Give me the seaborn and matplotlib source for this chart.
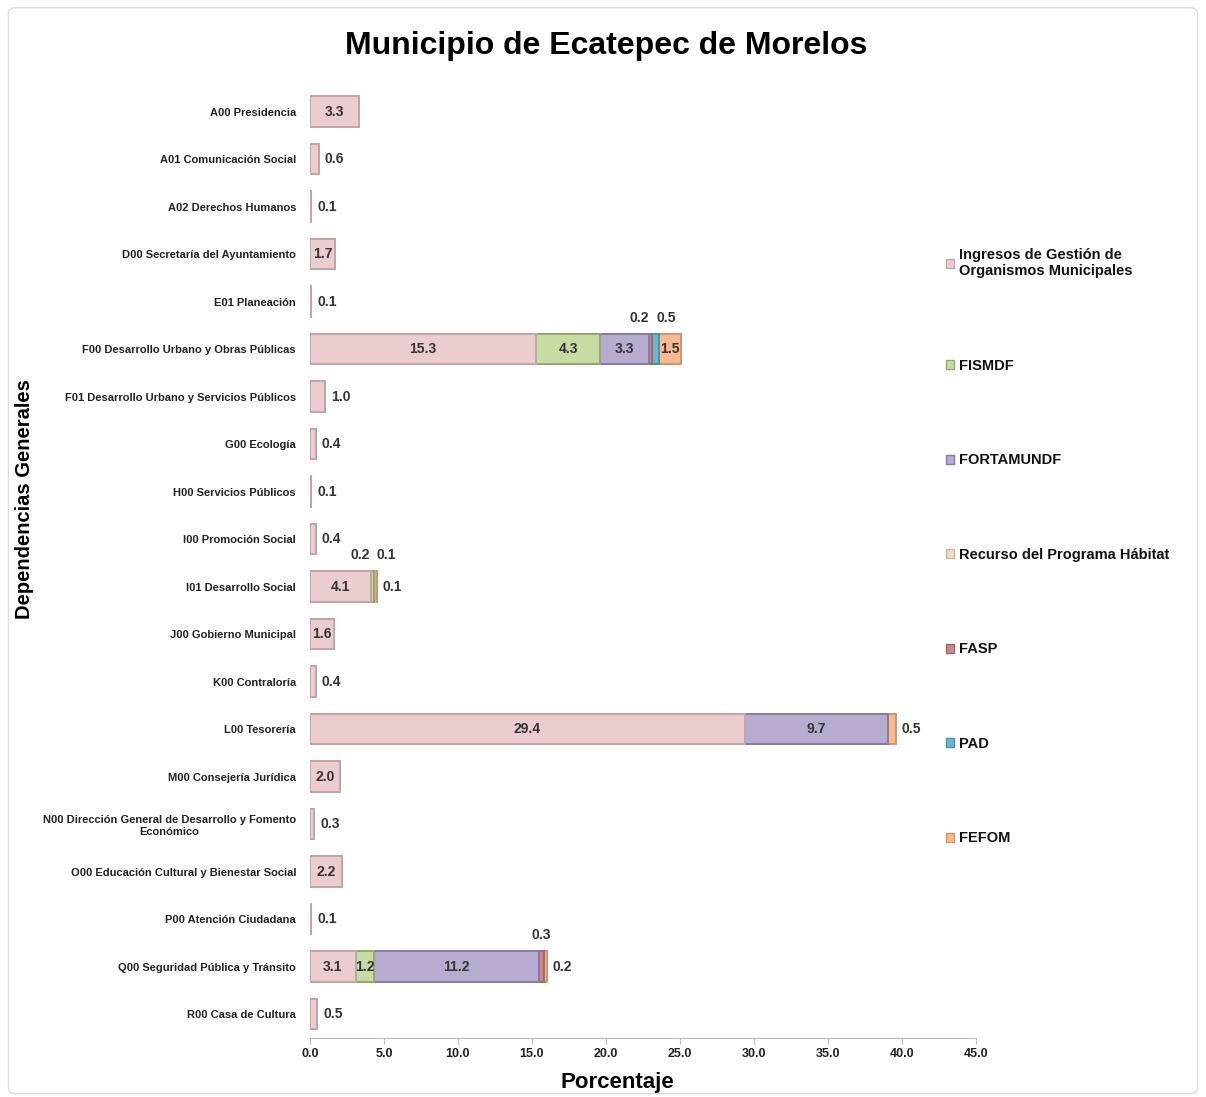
import numpy as np
import pandas as pd
import seaborn as sns
import matplotlib.pyplot as plt
from matplotlib.patches import Patch, FancyBboxPatch
from matplotlib.ticker import FormatStrFormatter, MultipleLocator

# Data (percent of budget per dependency and funding source)
dependencias = [
    "A00 Presidencia", "A01 Comunicación Social", "A02 Derechos Humanos",
    "D00 Secretaría del Ayuntamiento", "E01 Planeación",
    "F00 Desarrollo Urbano y Obras Públicas",
    "F01 Desarrollo Urbano y Servicios Públicos", "G00 Ecología",
    "H00 Servicios Públicos", "I00 Promoción Social", "I01 Desarrollo Social",
    "J00 Gobierno Municipal", "K00 Contraloría", "L00 Tesorería",
    "M00 Consejería Jurídica",
    "N00 Dirección General de Desarrollo y Fomento\nEconómico",
    "O00 Educación Cultural y Bienestar Social", "P00 Atención Ciudadana",
    "Q00 Seguridad Pública y Tránsito", "R00 Casa de Cultura",
]
ingresos = [3.3, 0.6, 0.1, 1.7, 0.1, 15.3, 1.0, 0.4, 0.1, 0.4, 4.1, 1.6, 0.4, 29.4, 2.0, 0.3, 2.2, 0.1, 3.1, 0.5]
fismdf = [0, 0, 0, 0, 0, 4.3, 0, 0, 0, 0, 0.2, 0, 0, 0, 0, 0, 0, 0, 1.2, 0]
fortamundf = [0, 0, 0, 0, 0, 3.3, 0, 0, 0, 0, 0, 0, 0, 9.7, 0, 0, 0, 0, 11.2, 0]
habitat = [0, 0, 0, 0, 0, 0, 0, 0, 0, 0, 0.1, 0, 0, 0, 0, 0, 0, 0, 0, 0]
fasp = [0, 0, 0, 0, 0, 0.2, 0, 0, 0, 0, 0, 0, 0, 0, 0, 0, 0, 0, 0.3, 0]
pad = [0, 0, 0, 0, 0, 0.5, 0, 0, 0, 0, 0, 0, 0, 0, 0, 0, 0, 0, 0, 0]
fefom = [0, 0, 0, 0, 0, 1.5, 0, 0, 0, 0, 0.1, 0, 0, 0.5, 0, 0, 0, 0, 0.2, 0]

series_names = ["Ingresos de Gestión de\nOrganismos Municipales", "FISMDF", "FORTAMUNDF",
                "Recurso del Programa Hábitat", "FASP", "PAD", "FEFOM"]
series_vals = [ingresos, fismdf, fortamundf, habitat, fasp, pad, fefom]
colors = ["#ebcdcf", "#c6dca2", "#b8abd0", "#f1dccb", "#c98a8e", "#6db6cf", "#f6bb92"]
edges = ["#c4a4a6", "#94a96e", "#887ba2", "#cdb5a3", "#a0666a", "#4b93ab", "#d29468"]

df = pd.DataFrame(dict(zip(series_names, series_vals)), index=dependencias)
cum = df.cumsum(axis=1)

plt.rcParams["font.family"] = ["Liberation Sans", "DejaVu Sans"]
fig, ax = plt.subplots(figsize=(12.06, 10.97), dpi=100)
fig.subplots_adjust(left=0.257, right=0.809, bottom=0.054, top=0.92)

# light frame around the figure
fig.patches.append(FancyBboxPatch((0.007, 0.003), 0.986, 0.99, boxstyle="round,pad=0,rounding_size=0.006",
                                  transform=fig.transFigure, facecolor="none", edgecolor="#dddddd", lw=1))

# stacked bars: draw cumulative totals from last series to first
for i in range(len(series_names) - 1, -1, -1):
    d = pd.DataFrame({"dep": dependencias, "val": cum.iloc[:, i].values})
    sns.barplot(data=d, y="dep", x="val", orient="y", color=colors[i], width=0.64,
                edgecolor=edges[i], linewidth=1.4, saturation=1, ax=ax, errorbar=None)

# value labels
lab_kw = dict(fontsize=10, fontweight="bold", color="#333333", va="center")
for r, dep in enumerate(dependencias):
    vals = df.loc[dep].values
    nz = [j for j in range(len(vals)) if vals[j] > 0]
    above = []
    for k, j in enumerate(nz):
        v = vals[j]
        start = cum.loc[dep].values[j] - v
        if v >= 1.2:
            ax.text(start + v / 2, r, f"{v:.1f}", ha="center", **lab_kw)
        elif k == len(nz) - 1:
            ax.text(start + v + 0.4, r, f"{v:.1f}", ha="left", **lab_kw)
        else:
            above.append((start + v / 2, v))
    if above:
        mean = np.mean([c for c, _ in above])
        n = len(above)
        for k, (c, v) in enumerate(above):
            xpos = mean + (k - (n - 1) / 2) * 1.8
            ax.text(xpos, r - 0.66, f"{v:.1f}", ha="center", **lab_kw)

ax.set_xlim(0, 45)
ax.set_ylim(len(dependencias) - 0.5, -0.5)
ax.xaxis.set_major_locator(MultipleLocator(5))
ax.xaxis.set_major_formatter(FormatStrFormatter("%.1f"))
for s in ["top", "right", "left"]:
    ax.spines[s].set_visible(False)
ax.spines["bottom"].set_color("#bbbbbb")
ax.tick_params(axis="x", colors="#bbbbbb", length=4, labelcolor="#222222", labelsize=9)
ax.tick_params(axis="y", length=0, labelsize=8, labelcolor="#222222", pad=10)
for t in ax.get_xticklabels():
    t.set_fontweight("bold")
    t.set_family(["Liberation Sans Narrow", "Liberation Sans"])
for t in ax.get_yticklabels():
    t.set_fontweight("bold")
    t.set_multialignment("center")

ax.set_xlabel("Porcentaje", fontsize=16, fontweight="bold")
ax.xaxis.set_label_coords(0.462, -0.036)
ax.set_ylabel("Dependencias Generales", fontsize=14.5, fontweight="bold")
ax.yaxis.set_label_coords(-0.414, 0.567)
fig.suptitle("Municipio de Ecatepec de Morelos", fontsize=23, fontweight="bold", y=0.972, x=0.503)

handles = [Patch(facecolor=c, edgecolor=e) for c, e in zip(colors, edges)]
leg = ax.legend(handles, series_names, loc="upper left", bbox_to_anchor=(0.935, 0.845),
                frameon=False, prop=dict(size=10.5, weight="bold"), labelspacing=5.52,
                handlelength=0.6, handleheight=0.6, handletextpad=0.3)
for t in leg.get_texts():
    t.set_color("#111111")

fig.savefig("out.png", dpi=100)
